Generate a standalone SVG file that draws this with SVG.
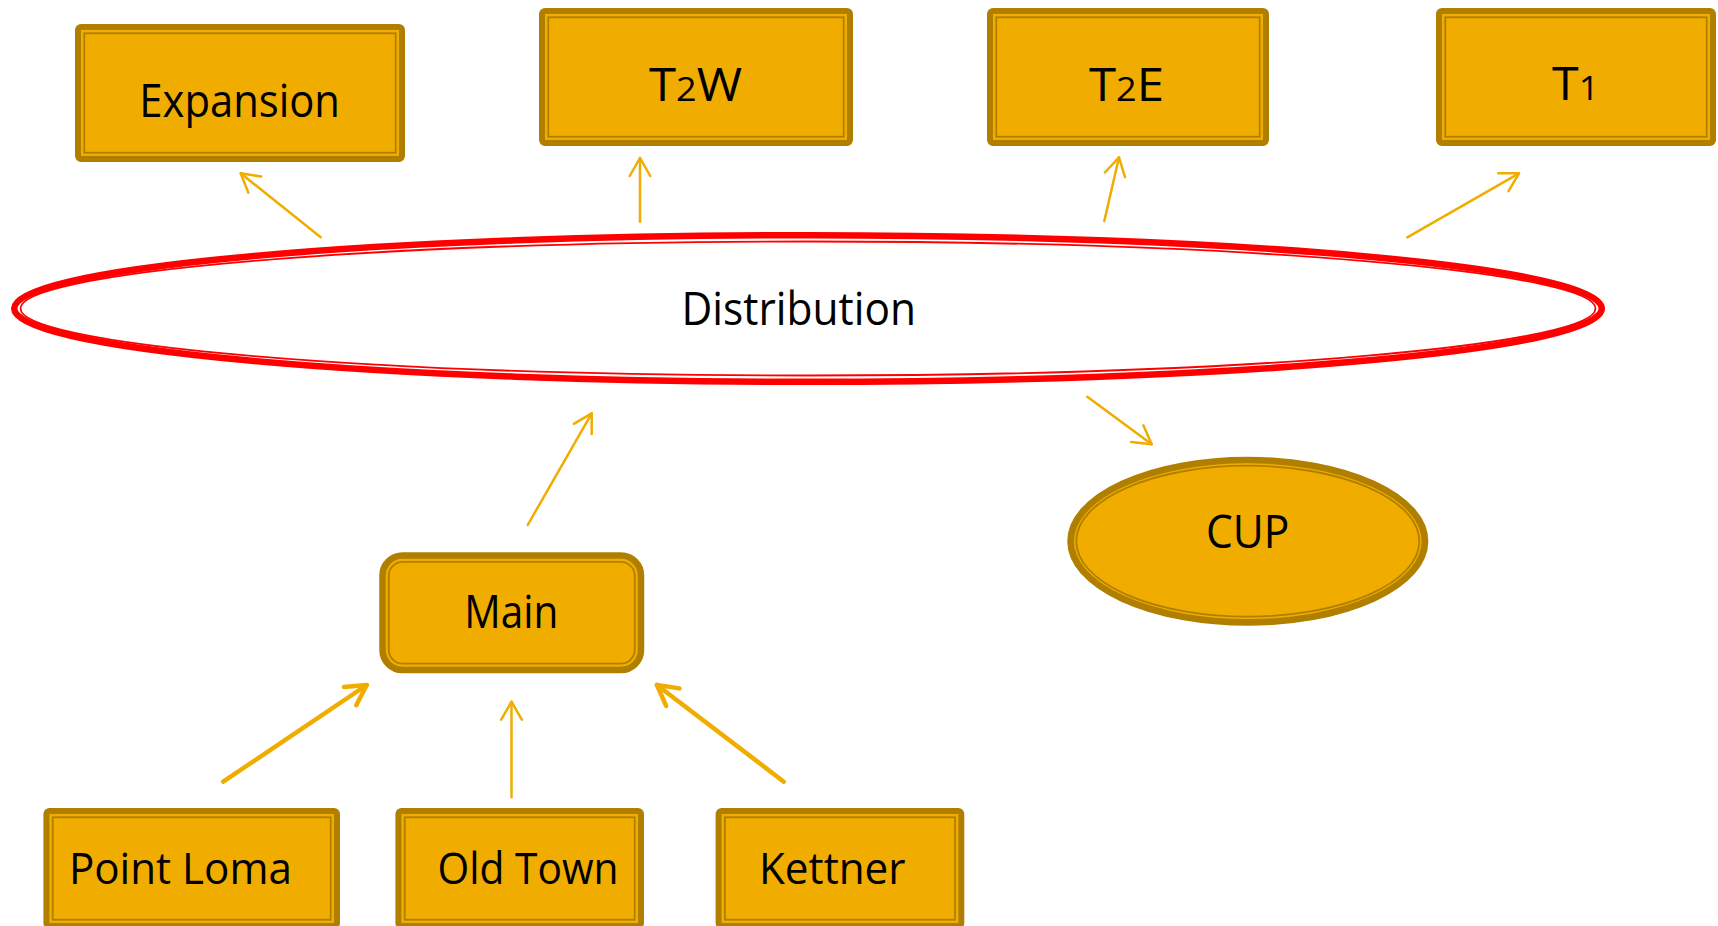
<svg xmlns="http://www.w3.org/2000/svg" width="1718" height="926" viewBox="0 0 1718 926">
<defs>
<style>
.box{fill:#F0AD00;stroke:#B17F00;stroke-width:6}
.inner{fill:none;stroke:#B17F00;stroke-width:1.8}
.lbl{font-family:"Open Sans","Noto Sans","DejaVu Sans",sans-serif;font-size:45px;fill:#000}
.sm{font-size:44px}
.sub{font-size:33px}
.conn{fill:none;stroke:#F0AD00;stroke-linecap:round}
.thin{stroke-width:2.5;marker-end:url(#ah)}
.thick{stroke-width:4.5;marker-end:url(#ahb)}
</style>
<marker id="ah" markerUnits="userSpaceOnUse" viewBox="-24 -14 28 28" markerWidth="28" markerHeight="28" refX="0" refY="0" orient="auto" overflow="visible">
<path d="M-18,-10.3 L0,0 L-18,10.3" fill="none" stroke="#F0AD00" stroke-width="2.5" stroke-linecap="round" stroke-linejoin="round"/>
</marker>
<marker id="ahb" markerUnits="userSpaceOnUse" viewBox="-24 -14 28 28" markerWidth="28" markerHeight="28" refX="0" refY="0" orient="auto" overflow="visible">
<path d="M-20,-11 L0,0 L-20,11" fill="none" stroke="#F0AD00" stroke-width="4.5" stroke-linecap="round" stroke-linejoin="round"/>
</marker>
</defs>
<rect width="1718" height="926" fill="#FFFFFF"/>

<g id="connectors">
<path class="conn thin" d="M320.7,237.3 L240.7,173.3"/>
<path class="conn thin" d="M640,221.7 L640,158"/>
<path class="conn thin" d="M1104.3,221 L1119,157.3"/>
<path class="conn thin" d="M1407.3,237.3 L1519,173.3"/>
<path class="conn thin" d="M527.7,525 L591.7,413.3"/>
<path class="conn thin" d="M1087.3,396.7 L1151.7,444.3"/>
<path class="conn thick" d="M223.2,781.7 L366.7,685"/>
<path class="conn thin" d="M511.5,797.3 L511.5,701.7"/>
<path class="conn thick" d="M783.8,781.7 L656.9,685"/>
</g>

<g id="node-expansion">
<rect class="box" x="78" y="27" width="324" height="132" rx="3"/>
<rect class="inner" x="84.3" y="33.3" width="311.4" height="119.4"/>
<text class="lbl" x="139.3" y="117" textLength="200.7" lengthAdjust="spacingAndGlyphs">Expansion</text>
</g>

<g id="node-t2w">
<rect class="box" x="542" y="11" width="308" height="132" rx="3"/>
<rect class="inner" x="548.3" y="17.3" width="295.4" height="119.4"/>
<text class="lbl" x="649" y="100.7" textLength="93" lengthAdjust="spacingAndGlyphs">T<tspan class="sub">2</tspan>W</text>
</g>

<g id="node-t2e">
<rect class="box" x="990" y="11" width="276" height="132" rx="3"/>
<rect class="inner" x="996.3" y="17.3" width="263.4" height="119.4"/>
<text class="lbl" x="1089" y="100.7" textLength="75" lengthAdjust="spacingAndGlyphs">T<tspan class="sub">2</tspan>E</text>
</g>

<g id="node-t1">
<rect class="box" x="1439" y="11" width="274" height="132" rx="3"/>
<rect class="inner" x="1445.3" y="17.3" width="261.4" height="119.4"/>
<text class="lbl" x="1552" y="100" textLength="47" lengthAdjust="spacingAndGlyphs">T<tspan class="sub">1</tspan></text>
</g>

<g id="node-distribution">
<ellipse cx="808" cy="308.5" rx="793.8" ry="73.3" fill="#FFFFFF" stroke="#FF0000" stroke-width="6.5"/>
<ellipse cx="808" cy="308.5" rx="787.5" ry="67" fill="none" stroke="#FF0000" stroke-width="1.8"/>
<text class="lbl" x="681.5" y="325" textLength="234.5" lengthAdjust="spacingAndGlyphs">Distribution</text>
</g>

<g id="node-cup">
<ellipse cx="1247.8" cy="541.2" rx="177.2" ry="81.2" fill="#F0AD00" stroke="#B17F00" stroke-width="6.7"/>
<ellipse cx="1247.8" cy="541.2" rx="171.5" ry="75.5" fill="none" stroke="#B17F00" stroke-width="1.8"/>
<text class="lbl" x="1206" y="548.3" textLength="83.3" lengthAdjust="spacingAndGlyphs">CUP</text>
</g>

<g id="node-main">
<rect class="box" x="382.5" y="555.5" width="258.5" height="114.5" rx="20" style="stroke-width:6.5"/>
<rect class="inner" x="388.8" y="561.8" width="245.9" height="101.9" rx="14"/>
<text class="lbl" x="464.3" y="628.3" textLength="94" lengthAdjust="spacingAndGlyphs">Main</text>
</g>

<g id="node-point-loma">
<rect class="box" x="46.4" y="811" width="290.6" height="115" rx="3"/>
<rect class="inner" x="52.7" y="817.3" width="278" height="102.4"/>
<text class="lbl sm" x="68.9" y="884" textLength="223" lengthAdjust="spacingAndGlyphs">Point Loma</text>
</g>

<g id="node-old-town">
<rect class="box" x="398.4" y="811" width="242.6" height="115" rx="3"/>
<rect class="inner" x="404.7" y="817.3" width="230" height="102.4"/>
<text class="lbl sm" x="437.5" y="884" textLength="181" lengthAdjust="spacingAndGlyphs">Old Town</text>
</g>

<g id="node-kettner">
<rect class="box" x="718.6" y="811" width="242.7" height="115" rx="3"/>
<rect class="inner" x="724.9" y="817.3" width="230.1" height="102.4"/>
<text class="lbl sm" x="759" y="884" textLength="146.6" lengthAdjust="spacingAndGlyphs">Kettner</text>
</g>
</svg>
